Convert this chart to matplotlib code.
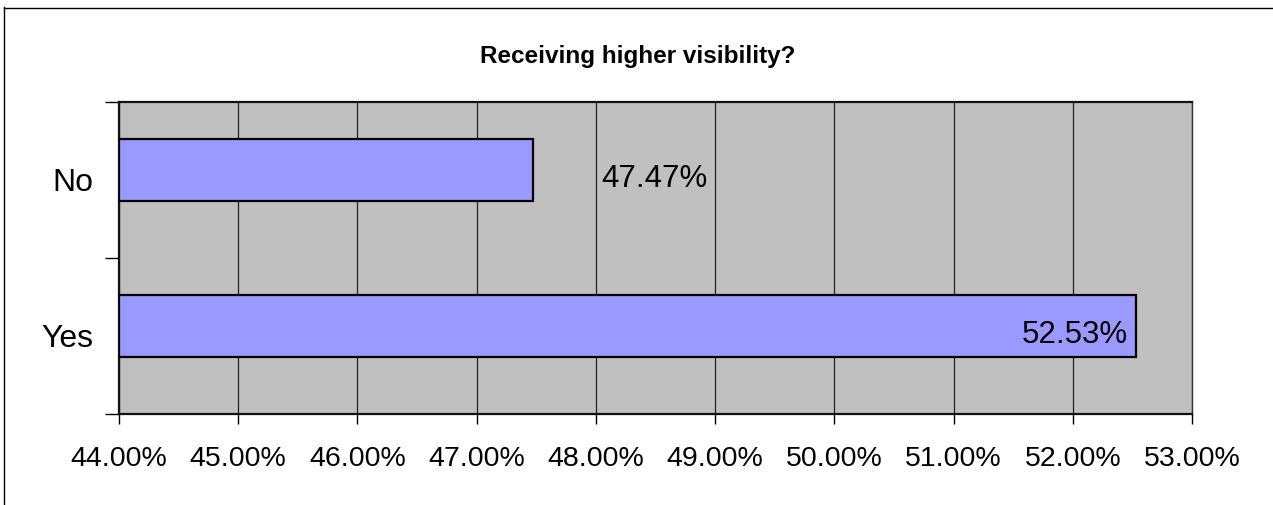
import matplotlib
matplotlib.use("Agg")
import matplotlib.pyplot as plt
from matplotlib.lines import Line2D

categories = ["No", "Yes"]
values = [47.47, 52.53]
value_labels = ["47.47%", "52.53%"]
xticks = [44, 45, 46, 47, 48, 49, 50, 51, 52, 53]
xtick_labels = ["%.2f%%" % t for t in xticks]
title = "Receiving higher visibility?"

plt.rcParams['font.family'] = ['Liberation Sans', 'DejaVu Sans']

W, H = 1273, 506
fig = plt.figure(figsize=(W / 100, H / 100), dpi=100)
ax = fig.add_axes([119 / W, 1 - 415 / H, (1192 - 119) / W, (415 - 103) / H])
ax.set_facecolor('#C0C0C0')

xmin, xmax = xticks[0], xticks[-1]
ypos = list(range(len(categories)))
bar_shift = -0.064
ax.barh([y + bar_shift for y in ypos], [v - xmin for v in values], left=xmin, height=0.4,
        color='#9999FF', edgecolor='black', linewidth=1.6, zorder=3)

ax.set_xlim(xmin, xmax)
ax.set_ylim(len(categories) - 0.5, -0.5)
ax.set_xticks(xticks)
ax.set_xticklabels(xtick_labels, fontsize=20.5)
ax.xaxis.grid(True, color='#222222', linewidth=0.9, zorder=1)
ax.set_axisbelow(True)
ax.tick_params(axis='x', direction='out', length=7, width=1, pad=15)

# category labels
ax.set_yticks([y - 0.5 for y in ypos] + [len(categories) - 0.5])
ax.set_yticklabels([])
ax.tick_params(axis='y', direction='out', length=10, width=1)
for y, c in zip(ypos, categories):
    ax.text(-0.024, y + 0.01, c, transform=ax.get_yaxis_transform(),
            ha='right', va='center', fontsize=23)

for s in ['top', 'left', 'bottom']:
    ax.spines[s].set_linewidth(1.6)
    ax.spines[s].set_color('#111111')
ax.spines['right'].set_linewidth(1.0)
ax.spines['right'].set_color('#333333')

# value labels
ax.text(48.49, 0 - 0.01, value_labels[0], ha='center', va='center', fontsize=22.5, zorder=4)
ax.text(52.46, 1 - 0.01, value_labels[1], ha='right', va='center', fontsize=22.5, zorder=4)

fig.text(638 / W, 1 - 57 / H, title, ha='center', va='center', fontsize=17.5, fontweight='bold')

# figure border
fig.add_artist(Line2D([3.5 / W, 3.5 / W], [0, 1 - 8 / H], transform=fig.transFigure, color='black', linewidth=1))
fig.add_artist(Line2D([3.5 / W, 1], [1 - 8.5 / H, 1 - 8.5 / H], transform=fig.transFigure, color='black', linewidth=1))

fig.savefig("out.png", dpi=100)
